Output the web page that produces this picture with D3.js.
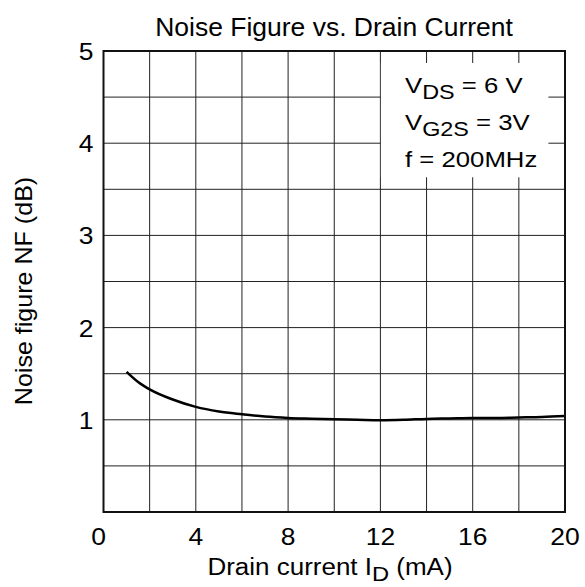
<!DOCTYPE html>
<html>
<head>
<meta charset="utf-8">
<script src="https://cdn.jsdelivr.net/npm/d3@7"></script>
<style>
  body { margin: 0; background: #fff; }
  svg { display: block; font-family: "Liberation Sans", Arial, sans-serif; }
</style>
</head>
<body>
<script>
'use strict';

// drain current (mA) and noise figure (dB)
let current = [1, 1.5, 2, 3, 4, 5, 6, 7, 8, 9, 10, 11, 12, 13, 14, 15, 16, 17, 18, 19, 20];
let noiseFigure = [1.52, 1.41, 1.33, 1.22, 1.14, 1.09, 1.06, 1.035, 1.02, 1.012, 1.005, 1.0, 0.995, 1.0, 1.01, 1.015, 1.02, 1.02, 1.025, 1.03, 1.04];

let xTicks = d3.range(0, 20.01, 2);
let yTicks = d3.range(0, 5.01, 0.5);
let xLabels = [0, 4, 8, 12, 16, 20];
let yLabels = [1, 2, 3, 4, 5];

let width = 585;
let height = 587;
let m = {top: 51, right: 20, bottom: 75, left: 103.5};

let x = d3.scaleLinear().domain([0, 20]).range([m.left, width - m.right]);
let y = d3.scaleLinear().domain([0, 5]).range([height - m.bottom, m.top]);

let svg = d3.select('body').append('svg')
  .attr('width', width)
  .attr('height', height);

// the lettering in the original is a little wider than Liberation Sans
let label = function(parent, px, py, sx, rot) {
  let g = parent.append('g')
    .attr('transform', 'translate(' + px + ',' + py + ')' + (rot ? ' rotate(' + rot + ')' : '') + ' scale(' + sx + ',1)');
  return g.append('text');
};

// grid
let grid = svg.append('g').attr('class', 'grid');
grid.selectAll('.vx')
  .data(xTicks.slice(1, -1))
  .enter().append('line')
    .attr('x1', d => x(d)).attr('x2', d => x(d))
    .attr('y1', y(0)).attr('y2', y(5))
    .attr('stroke', '#222').attr('stroke-width', 1);
grid.selectAll('.hy')
  .data(yTicks.slice(1, -1))
  .enter().append('line')
    .attr('y1', d => y(d)).attr('y2', d => y(d))
    .attr('x1', x(0)).attr('x2', x(20))
    .attr('stroke', '#222').attr('stroke-width', 1);

// legend box hides the grid behind it
let boxX0 = x(12) + 0.5;
let boxX1 = x(19.28);
let boxY0 = y(4.87);
let boxY1 = y(3.63);
svg.append('rect')
  .attr('x', boxX0).attr('y', boxY0)
  .attr('width', boxX1 - boxX0).attr('height', boxY1 - boxY0)
  .attr('fill', '#fff');

// curve
let line = d3.line()
  .x((d, i) => x(current[i]))
  .y(d => y(d))
  .curve(d3.curveMonotoneX);

svg.append('path')
  .datum(noiseFigure)
  .attr('d', line)
  .attr('fill', 'none')
  .attr('stroke', '#000')
  .attr('stroke-width', 2.5);

// frame
svg.append('rect')
  .attr('x', x(0)).attr('y', y(5))
  .attr('width', x(20) - x(0)).attr('height', y(0) - y(5))
  .attr('fill', 'none')
  .attr('stroke', '#111')
  .attr('stroke-width', 2);

// tick labels
xLabels.forEach(function(d) {
  label(svg, x(d) - (d === 0 ? 5 : 0), y(0) + 33, 1.15)
    .attr('text-anchor', 'middle')
    .attr('font-size', 23)
    .text(d);
});

yLabels.forEach(function(d) {
  label(svg, x(0) - 10, y(d) + 9, 1.15)
    .attr('text-anchor', 'end')
    .attr('font-size', 23)
    .text(d);
});

// title
label(svg, 334, 36, 1.06)
  .attr('text-anchor', 'middle')
  .attr('font-size', 25)
  .text('Noise Figure vs. Drain Current');

// x axis title
let xt = label(svg, 330, 575, 1.13)
  .attr('text-anchor', 'middle')
  .attr('font-size', 23);
xt.append('tspan').text('Drain current I');
xt.append('tspan').attr('font-size', 21).attr('dy', 6).text('D');
xt.append('tspan').attr('dy', -6).text(' (mA)');

// y axis title
label(svg, 32, 291, 1.09, -90)
  .attr('text-anchor', 'middle')
  .attr('font-size', 23)
  .text('Noise figure NF (dB)');

// conditions
let lx = 405;
let t1 = label(svg, lx, 93, 1.17).attr('font-size', 22);
t1.append('tspan').text('V');
t1.append('tspan').attr('font-size', 20).attr('dy', 6).text('DS');
t1.append('tspan').attr('dy', -6).text(' = 6 V');
let t2 = label(svg, lx, 130, 1.17).attr('font-size', 22);
t2.append('tspan').text('V');
t2.append('tspan').attr('font-size', 20).attr('dy', 6).text('G2S');
t2.append('tspan').attr('dy', -6).text(' = 3V');
label(svg, lx, 167, 1.17).attr('font-size', 22).text('f = 200MHz');
</script>
</body>
</html>
